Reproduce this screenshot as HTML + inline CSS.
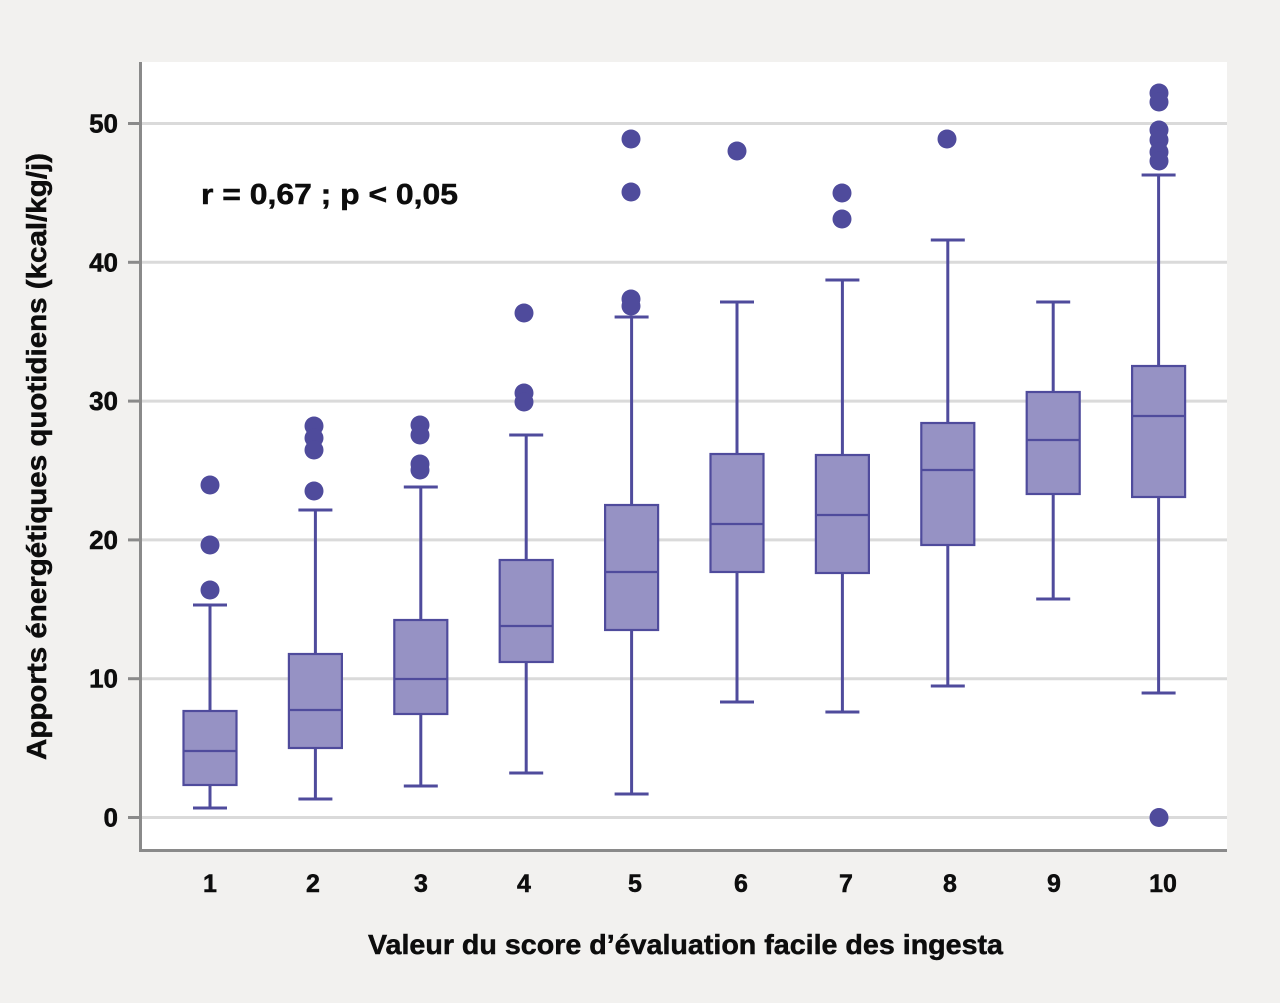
<!DOCTYPE html>
<html>
<head>
<meta charset="utf-8">
<style>
  html,body{margin:0;padding:0;background:#f2f1ef;}
  svg{display:block;}
  text{font-family:"Liberation Sans",Arial,sans-serif;font-weight:bold;fill:#0d0d0d;stroke:#0d0d0d;stroke-width:0.5;}
</style>
</head>
<body>
<svg width="1280" height="1003" viewBox="0 0 1280 1003" xmlns="http://www.w3.org/2000/svg">
  <rect x="0" y="0" width="1280" height="1003" fill="#f2f1ef"/>
  <!-- plot area -->
  <rect x="141" y="62" width="1086" height="788" fill="#ffffff"/>
  <!-- gridlines -->
  <g stroke="#dadada" stroke-width="3">
    <line x1="141" y1="123.5" x2="1227" y2="123.5"/>
    <line x1="141" y1="262.3" x2="1227" y2="262.3"/>
    <line x1="141" y1="401.1" x2="1227" y2="401.1"/>
    <line x1="141" y1="539.9" x2="1227" y2="539.9"/>
    <line x1="141" y1="678.7" x2="1227" y2="678.7"/>
    <line x1="141" y1="817.5" x2="1227" y2="817.5"/>
  </g>
  <!-- axes -->
  <g stroke="#8a8a8a" stroke-width="3">
    <line x1="140.5" y1="62" x2="140.5" y2="851.5"/>
    <line x1="139" y1="850.5" x2="1227" y2="850.5"/>
    <line x1="128" y1="123.5" x2="140" y2="123.5"/>
    <line x1="128" y1="262.3" x2="140" y2="262.3"/>
    <line x1="128" y1="401.1" x2="140" y2="401.1"/>
    <line x1="128" y1="539.9" x2="140" y2="539.9"/>
    <line x1="128" y1="678.7" x2="140" y2="678.7"/>
    <line x1="128" y1="817.5" x2="140" y2="817.5"/>
  </g>
  <!-- y tick labels -->
  <g font-size="26" text-anchor="end">
    <text x="118" y="132.5">50</text>
    <text x="118" y="271.3">40</text>
    <text x="118" y="410.1">30</text>
    <text x="118" y="548.9">20</text>
    <text x="118" y="687.7">10</text>
    <text x="118" y="826.5">0</text>
  </g>
  <!-- x tick labels -->
  <g font-size="25" text-anchor="middle">
    <text x="210" y="892">1</text>
    <text x="313" y="892">2</text>
    <text x="421" y="892">3</text>
    <text x="524" y="892">4</text>
    <text x="635" y="892">5</text>
    <text x="741" y="892">6</text>
    <text x="846" y="892">7</text>
    <text x="950" y="892">8</text>
    <text x="1054" y="892">9</text>
    <text x="1163" y="892">10</text>
  </g>
  <!-- axis titles -->
  <text x="368" y="954" font-size="28" textLength="635" lengthAdjust="spacingAndGlyphs">Valeur du score d’évaluation facile des ingesta</text>
  <text transform="translate(46,760) rotate(-90)" x="0" y="0" font-size="28" textLength="607" lengthAdjust="spacingAndGlyphs">Apports énergétiques quotidiens (kcal/kg/j)</text>
  <!-- annotation -->
  <text x="201" y="204" font-size="29" textLength="257" lengthAdjust="spacingAndGlyphs">r = 0,67 ; p &lt; 0,05</text>

  <!-- boxplots -->
  <g stroke="#4f4b9c" fill="none">
    <!-- whiskers -->
    <g stroke-width="3">
      <line x1="210" y1="605" x2="210" y2="808"/>
      <line x1="315.4" y1="510" x2="315.4" y2="799"/>
      <line x1="420.8" y1="487" x2="420.8" y2="786"/>
      <line x1="526.2" y1="435" x2="526.2" y2="773"/>
      <line x1="631.6" y1="317" x2="631.6" y2="794"/>
      <line x1="737" y1="302" x2="737" y2="702"/>
      <line x1="842.4" y1="280" x2="842.4" y2="712"/>
      <line x1="947.8" y1="240" x2="947.8" y2="686"/>
      <line x1="1053.2" y1="302" x2="1053.2" y2="599"/>
      <line x1="1158.6" y1="175" x2="1158.6" y2="693"/>
      <!-- caps -->
      <line x1="193" y1="605" x2="227" y2="605"/><line x1="193" y1="808" x2="227" y2="808"/>
      <line x1="298.4" y1="510" x2="332.4" y2="510"/><line x1="298.4" y1="799" x2="332.4" y2="799"/>
      <line x1="403.8" y1="487" x2="437.8" y2="487"/><line x1="403.8" y1="786" x2="437.8" y2="786"/>
      <line x1="509.2" y1="435" x2="543.2" y2="435"/><line x1="509.2" y1="773" x2="543.2" y2="773"/>
      <line x1="614.6" y1="317" x2="648.6" y2="317"/><line x1="614.6" y1="794" x2="648.6" y2="794"/>
      <line x1="720" y1="302" x2="754" y2="302"/><line x1="720" y1="702" x2="754" y2="702"/>
      <line x1="825.4" y1="280" x2="859.4" y2="280"/><line x1="825.4" y1="712" x2="859.4" y2="712"/>
      <line x1="930.8" y1="240" x2="964.8" y2="240"/><line x1="930.8" y1="686" x2="964.8" y2="686"/>
      <line x1="1036.2" y1="302" x2="1070.2" y2="302"/><line x1="1036.2" y1="599" x2="1070.2" y2="599"/>
      <line x1="1141.6" y1="175" x2="1175.6" y2="175"/><line x1="1141.6" y1="693" x2="1175.6" y2="693"/>
    </g>
    <!-- boxes -->
    <g stroke-width="2.2" fill="#9692c4">
      <rect x="183.5" y="711" width="53" height="74"/>
      <rect x="288.9" y="654" width="53" height="94"/>
      <rect x="394.3" y="620" width="53" height="94"/>
      <rect x="499.7" y="560" width="53" height="102"/>
      <rect x="605.1" y="505" width="53" height="125"/>
      <rect x="710.5" y="454" width="53" height="118"/>
      <rect x="815.9" y="455" width="53" height="118"/>
      <rect x="921.3" y="423" width="53" height="122"/>
      <rect x="1026.7" y="392" width="53" height="102"/>
      <rect x="1132.1" y="366" width="53" height="131"/>
    </g>
    <!-- medians -->
    <g stroke-width="2.2">
      <line x1="183.5" y1="751" x2="236.5" y2="751"/>
      <line x1="288.9" y1="710" x2="341.9" y2="710"/>
      <line x1="394.3" y1="679" x2="447.3" y2="679"/>
      <line x1="499.7" y1="626" x2="552.7" y2="626"/>
      <line x1="605.1" y1="572" x2="658.1" y2="572"/>
      <line x1="710.5" y1="524" x2="763.5" y2="524"/>
      <line x1="815.9" y1="515" x2="868.9" y2="515"/>
      <line x1="921.3" y1="470" x2="974.3" y2="470"/>
      <line x1="1026.7" y1="440" x2="1079.7" y2="440"/>
      <line x1="1132.1" y1="416" x2="1185.1" y2="416"/>
    </g>
  </g>
  <!-- outliers -->
  <g fill="#4f4b9c">
    <circle cx="210" cy="485" r="9.5"/><circle cx="210" cy="545" r="9.5"/><circle cx="210" cy="590" r="9.5"/>
    <circle cx="314" cy="426" r="9.5"/><circle cx="314" cy="438" r="9.5"/><circle cx="314" cy="450" r="9.5"/><circle cx="314" cy="491" r="9.5"/>
    <circle cx="420" cy="425" r="9.5"/><circle cx="420" cy="435" r="9.5"/><circle cx="420" cy="464" r="9.5"/><circle cx="420" cy="470" r="9.5"/>
    <circle cx="524" cy="313" r="9.5"/><circle cx="524" cy="393" r="9.5"/><circle cx="524" cy="402" r="9.5"/>
    <circle cx="631" cy="139" r="9.5"/><circle cx="631" cy="192" r="9.5"/><circle cx="631" cy="299" r="9.5"/><circle cx="631" cy="306" r="9.5"/>
    <circle cx="737" cy="151" r="9.5"/>
    <circle cx="842" cy="193" r="9.5"/><circle cx="842" cy="219" r="9.5"/>
    <circle cx="947" cy="139" r="9.5"/>
    <circle cx="1159" cy="93" r="9.5"/><circle cx="1159" cy="102" r="9.5"/><circle cx="1159" cy="130" r="9.5"/><circle cx="1159" cy="140" r="9.5"/><circle cx="1159" cy="152" r="9.5"/><circle cx="1159" cy="161" r="9.5"/>
    <circle cx="1159" cy="817.5" r="9.5"/>
  </g>
</svg>
</body>
</html>
